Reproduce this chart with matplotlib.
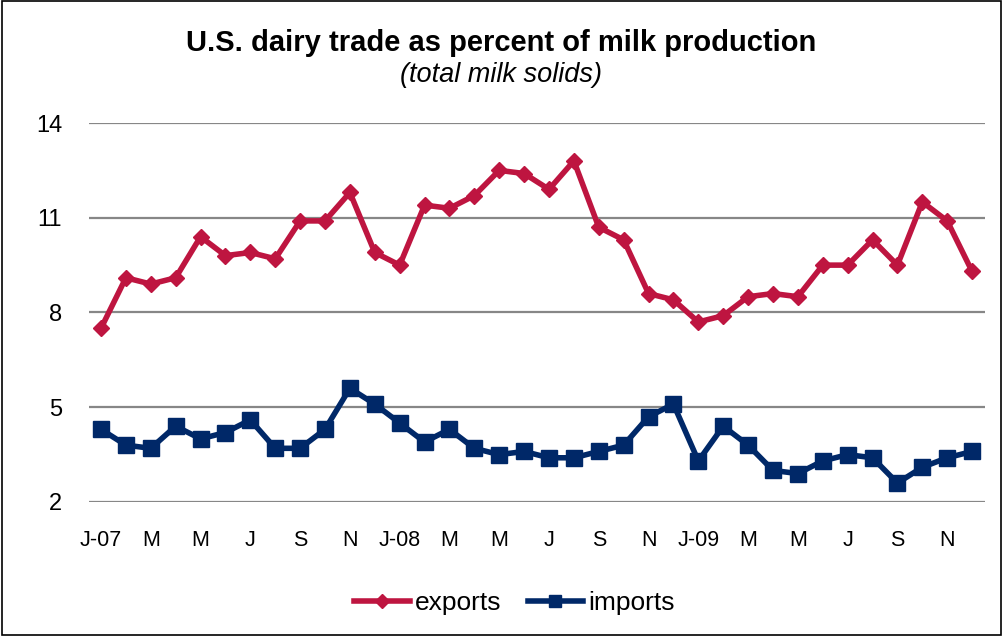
import matplotlib.pyplot as plt
from matplotlib.patches import Rectangle

plt.rcParams['font.family'] = ['Liberation Sans', 'DejaVu Sans']

# Monthly data, Jan 2007 - Dec 2009 (percent of milk production, total milk solids)
months = list(range(36))
tick_labels = ['J-07', 'M', 'M', 'J', 'S', 'N',
               'J-08', 'M', 'M', 'J', 'S', 'N',
               'J-09', 'M', 'M', 'J', 'S', 'N']
exports = [7.5, 9.1, 8.9, 9.1, 10.4, 9.8, 9.9, 9.7, 10.9, 10.9, 11.8, 9.9,
           9.5, 11.4, 11.3, 11.7, 12.5, 12.4, 11.9, 12.8, 10.7, 10.3, 8.6, 8.4,
           7.7, 7.9, 8.5, 8.6, 8.5, 9.5, 9.5, 10.3, 9.5, 11.5, 10.9, 9.3]
imports = [4.3, 3.8, 3.7, 4.4, 4.0, 4.2, 4.6, 3.7, 3.7, 4.3, 5.6, 5.1,
           4.5, 3.9, 4.3, 3.7, 3.5, 3.6, 3.4, 3.4, 3.6, 3.8, 4.7, 5.1,
           3.3, 4.4, 3.8, 3.0, 2.9, 3.3, 3.5, 3.4, 2.6, 3.1, 3.4, 3.6]
y_ticks = [2, 5, 8, 11, 14]

red = '#BE1540'
navy = '#002868'

fig = plt.figure(figsize=(10.03, 6.36), dpi=100)
ax = fig.add_axes([0.0883, 0.2107, 0.8933, 0.5959])

ax.plot(months, exports, color=red, linewidth=4, marker='D', markersize=8,
        label='exports', zorder=3)
ax.plot(months, imports, color=navy, linewidth=4, marker='s', markersize=11,
        label='imports', zorder=3)

ax.set_xlim(-0.5, 35.5)
ax.set_ylim(2, 14)
ax.set_yticks(y_ticks)
ax.set_yticklabels([str(v) for v in y_ticks], fontsize=17)
ax.set_xticks(months[::2])
ax.set_xticklabels(tick_labels, fontsize=15.5)
ax.tick_params(length=0)
ax.tick_params(axis='y', pad=19)
ax.tick_params(axis='x', pad=20)
ax.yaxis.grid(True, color='#878787', linewidth=1.6)
ax.set_axisbelow(True)
for s in ax.spines.values():
    s.set_visible(False)

fig.text(0.5, 0.932, 'U.S. dairy trade as percent of milk production',
         ha='center', va='center', fontsize=21, fontweight='bold')
fig.text(0.5, 0.882, '(total milk solids)', ha='center', va='center',
         fontsize=19.5, style='italic')

fig.legend(loc='center', bbox_to_anchor=(0.513, 0.052), ncol=2, frameon=False,
           fontsize=19, handlelength=2.1, handletextpad=0.2, columnspacing=1.0,
           markerscale=0.85)

fig.patches.append(Rectangle((0.002, 0.002), 0.996, 0.996, transform=fig.transFigure,
                             fill=False, edgecolor='black', linewidth=1.2))

fig.savefig('out.png', dpi=100)
